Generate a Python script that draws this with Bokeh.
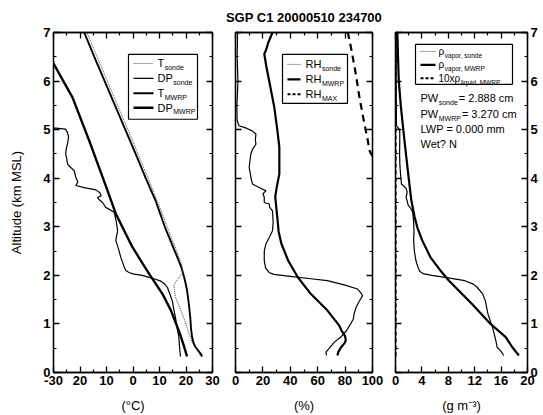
from bokeh.plotting import figure
from bokeh.layouts import row
from bokeh.models import FixedTicker, LinearAxis, Range1d
from bokeh.core.properties import value
from bokeh.embed import file_html
from bokeh.resources import INLINE

# ---------------- data ----------------
title_text = "SGP C1 20000510 234700"

# Panel 1: temperature / dew point (deg C) vs altitude (km MSL)
t_mwrp_alt = [0.33, 0.39, 0.45, 0.52, 0.6, 0.73, 0.9, 1.14, 1.4, 1.69, 1.9, 2.1, 2.2, 2.51, 3.0, 3.54, 4.0, 4.5, 5.0, 5.5, 6.0, 6.5, 7.0]
t_mwrp = [26.1, 25.5, 24.6, 23.6, 22.9, 22.3, 21.9, 21.6, 21.1, 20.4, 19.6, 18.6, 18.0, 15.7, 12.0, 8.5, 4.8, 1.0, -2.9, -6.8, -10.7, -14.6, -18.4]

t_sonde_alt = [0.33, 0.45, 0.6, 0.8, 0.93, 1.21, 1.55, 1.79, 1.9, 2.0, 2.06, 2.2, 2.5, 3.0, 3.5, 4.0, 4.5, 5.0, 6.0, 7.0]
t_sonde = [25.6, 24.3, 22.5, 21.1, 20.4, 18.6, 16.0, 15.4, 16.6, 18.0, 18.7, 18.5, 16.5, 12.9, 9.4, 5.7, 1.9, -1.9, -9.7, -17.4]

dp_mwrp_alt = [0.33, 0.55, 0.8, 1.28, 1.62, 2.03, 2.3, 2.58, 3.27, 3.88, 4.77, 5.66, 6.38, 7.0]
dp_mwrp = [20.4, 19.2, 17.7, 14.3, 11.1, 6.1, 3.0, -0.2, -6.5, -10.5, -16.5, -22.8, -30.2, -34.8]

dp_sonde_alt = [0.33, 0.5, 0.73, 0.93, 1.14, 1.3, 1.48, 1.6, 1.75, 1.82, 1.88, 1.92, 1.96, 2.0, 2.03, 2.06, 2.1, 2.2, 2.37, 2.55, 2.72, 2.92, 3.1, 3.3, 3.4, 3.5, 3.55, 3.6, 3.64, 3.7, 3.76, 3.8, 3.85, 3.92, 4.02, 4.16, 4.22, 4.29, 4.4, 4.5, 4.6, 4.71, 4.85, 4.95, 5.01, 5.03, 5.06, 7.0]
dp_sonde = [17.9, 17.6, 17.3, 16.6, 16.0, 15.4, 14.8, 14.0, 13.0, 12.0, 10.5, 8.5, 6.0, 3.5, 0.0, -1.5, -2.7, -3.5, -4.6, -5.5, -6.5, -5.8, -6.3, -7.1, -10.3, -11.5, -12.6, -13.4, -12.0, -12.5, -14.0, -18.0, -21.6, -20.8, -21.6, -22.2, -23.5, -24.7, -25.0, -25.4, -25.2, -24.7, -24.3, -24.8, -25.5, -29.0, -40.0, -48.0]

t_ticks = [-30, -20, -10, 0, 10, 20, 30]
t_tick_labels = ["-30", "20", "10", "0", "10", "20", "30"]
t_minor = [-25, -15, -5, 5, 15, 25]

# Panel 2: relative humidity (%)
rh_sonde_alt = [0.35, 0.42, 0.5, 0.62, 0.73, 0.86, 1.0, 1.1, 1.2, 1.34, 1.45, 1.58, 1.62, 1.72, 1.8, 1.89, 1.93, 1.98, 2.02, 2.06, 2.15, 2.3, 2.5, 2.65, 2.8, 2.92, 3.1, 3.33, 3.4, 3.47, 3.5, 3.61, 3.68, 3.74, 3.81, 3.88, 4.02, 4.1, 4.22, 4.35, 4.5, 4.6, 4.7, 4.8, 4.91, 4.97, 5.03, 5.08, 5.19, 5.5, 6.0, 6.5, 7.0]
rh_sonde = [66.5, 66.0, 68.5, 72.0, 76.8, 81.0, 84.0, 86.0, 86.5, 88.0, 90.0, 92.7, 92.0, 89.0, 80.0, 67.0, 55.0, 40.0, 28.0, 24.5, 22.0, 21.0, 21.0, 22.2, 25.0, 27.0, 27.5, 27.0, 25.0, 24.6, 21.0, 21.0, 20.0, 22.2, 17.3, 12.4, 11.2, 10.8, 10.0, 10.5, 11.2, 12.5, 14.9, 14.5, 14.9, 12.4, 8.0, 2.5, 1.2, 1.0, 1.8, 1.2, 1.5]

rh_mwrp_alt = [0.35, 0.42, 0.52, 0.6, 0.66, 0.75, 0.86, 0.97, 1.28, 1.62, 1.96, 2.3, 2.65, 2.9, 3.2, 3.61, 3.8, 4.09, 4.64, 5.0, 5.46, 6.0, 6.3, 6.56, 6.63, 6.8, 7.0]
rh_mwrp = [74.4, 75.0, 77.0, 79.5, 80.5, 80.0, 77.5, 75.6, 67.0, 54.9, 45.5, 38.5, 33.5, 31.5, 30.5, 29.0, 30.0, 32.0, 32.0, 30.5, 28.3, 24.6, 22.5, 21.0, 22.2, 24.0, 27.0]

rh_max_alt = [4.45, 4.57, 4.77, 5.12, 5.66, 6.2, 6.69, 7.0]
rh_max = [100.0, 97.8, 96.6, 94.1, 90.5, 87.5, 84.3, 82.0]

rh_ticks = [0, 20, 40, 60, 80, 100]
rh_tick_labels = ["0", "20", "40", "60", "80", "100"]
rh_minor = [10, 30, 50, 70, 90]

# Panel 3: vapor / liquid density (g m-3)
rho_sonde_alt = [0.35, 0.45, 0.52, 0.66, 0.93, 1.21, 1.48, 1.62, 1.75, 1.82, 1.89, 1.95, 2.0, 2.03, 2.08, 2.17, 2.3, 2.51, 2.72, 2.92, 3.1, 3.3, 3.38, 3.45, 3.52, 3.6, 3.66, 3.72, 3.78, 3.82, 3.88, 4.02, 4.16, 4.29, 4.5, 4.7, 4.9, 5.0, 5.03, 5.08, 5.5, 6.0, 6.5, 7.0]
rho_sonde = [16.4, 15.9, 15.4, 15.2, 14.7, 14.0, 13.6, 13.2, 12.4, 11.8, 10.5, 8.0, 5.5, 4.3, 3.7, 3.4, 3.1, 2.85, 2.75, 2.8, 2.75, 2.6, 2.3, 1.9, 1.8, 1.6, 1.7, 1.75, 1.65, 1.4, 0.9, 0.8, 0.72, 0.66, 0.62, 0.64, 0.65, 0.62, 0.45, 0.15, 0.12, 0.09, 0.1, 0.08]

rho_mwrp_alt = [0.35, 0.52, 0.73, 1.0, 1.41, 1.89, 2.1, 2.37, 2.72, 2.99, 3.2, 3.54, 4.0, 4.5, 5.0, 5.5, 6.0, 6.5, 7.0]
rho_mwrp = [18.7, 17.7, 16.7, 14.4, 11.6, 8.1, 6.8, 5.3, 4.05, 3.3, 2.9, 2.4, 2.0, 1.58, 1.18, 0.8, 0.5, 0.38, 0.28]

liq_alt = [0.33, 7.0]
liq_mwrp_x10 = [0.0, 0.0]

rho_ticks = [0, 4, 8, 12, 16, 20]
rho_tick_labels = ["0", "4", "8", "12", "16", "20"]
rho_minor = [2, 6, 10, 14, 18]

alt_ticks = [0, 1, 2, 3, 4, 5, 6, 7]
alt_tick_labels = ["0", "1", "2", "3", "4", "5", "6", "7"]
alt_minor = [0.5, 1.5, 2.5, 3.5, 4.5, 5.5, 6.5]

pw_sonde = "2.888"
pw_mwrp = "3.270"
lwp = "0.000"
wet_flag = "N"

# ---------------- styling helpers ----------------
FONT = "Liberation Sans"
H = 415
FRAME_H = 341
TOP = 31
BOTTOM = H - TOP - FRAME_H

WIDTHS = {"T": 611, "D": 722, "P": 667, "R": 722, "H": 722, "W": 944, "M": 833, "A": 667,
          "X": 667, "L": 556, "N": 722, "s": 500, "o": 556, "n": 556, "d": 556, "e": 556,
          "a": 556, "p": 556, "r": 333, "l": 222, "i": 222, "q": 556, "u": 556, "x": 500,
          ",": 278, " ": 278, "ρ": 578, "1": 556, "0": 556}


def tw(s, size):
    return sum(WIDTHS.get(c, 556) for c in s) * size / 1000.0


def make_axis(ticks, minor, labels=None, axis_label=None, standoff=3):
    ax = LinearAxis(ticker=FixedTicker(ticks=ticks, minor_ticks=minor))
    ax.major_tick_in = 6
    ax.major_tick_out = 0
    ax.minor_tick_in = 3
    ax.minor_tick_out = 0
    ax.axis_line_width = 1.3
    ax.axis_line_color = "black"
    ax.major_tick_line_width = 1.3
    ax.minor_tick_line_width = 1.2
    ax.major_tick_line_color = "black"
    ax.minor_tick_line_color = "black"
    if labels is None:
        ax.major_label_overrides = {t: "" for t in ticks}
        ax.major_label_text_font_size = "1px"
        ax.major_label_standoff = 0
    else:
        ax.major_label_overrides = {t: l for t, l in zip(ticks, labels)}
        ax.major_label_text_font = FONT
        ax.major_label_text_font_size = "13px"
        ax.major_label_text_font_style = "bold"
        ax.major_label_text_color = "black"
        ax.major_label_standoff = standoff
    if axis_label is not None:
        ax.axis_label = axis_label
        ax.axis_label_text_font = FONT
        ax.axis_label_text_font_size = "13px"
        ax.axis_label_text_font_style = "normal"
        ax.axis_label_text_color = "black"
        ax.axis_label_standoff = 10
    return ax


def make_fig(width, xr, left, right):
    p = figure(width=width, height=H, x_range=Range1d(*xr), y_range=Range1d(0, 7),
               x_axis_type=None, y_axis_type=None, output_backend="svg",
               toolbar_location=None, min_border_left=left, min_border_right=right,
               min_border_top=TOP, min_border_bottom=BOTTOM)
    p.outline_line_color = "black"
    p.outline_line_width = 1.3
    p.background_fill_color = "white"
    p.border_fill_color = "white"
    return p


def conv(xr, frame_w):
    def fx(px):
        return xr[0] + px / frame_w * (xr[1] - xr[0])

    def fy(py):
        return 7 - py / FRAME_H * 7
    return fx, fy


def sub_text(p, x, y, main, sub, rest="", size=10.5, ssize=7):
    p.text(x=[x], y=[y], text=[main], text_font=value(FONT), text_font_size=value(f"{size}px"),
           text_baseline="middle", text_align="left", text_color="black")
    if sub:
        p.text(x=[x], y=[y], text=[sub], text_font=value(FONT), text_font_size=value(f"{ssize}px"),
               text_baseline="middle", text_align="left", text_color="black",
               x_offset=tw(main, size) + 0.5, y_offset=4)
    if rest:
        p.text(x=[x], y=[y], text=[rest], text_font=value(FONT), text_font_size=value(f"{size}px"),
               text_baseline="middle", text_align="left", text_color="black",
               x_offset=tw(main, size) + tw(sub, ssize) + 1.5)


def legend_box(p, fx, fy, box, entries, sx, tx, size=10.5, ssize=7):
    l, t, r, b = box
    p.quad(left=[fx(l)], right=[fx(r)], top=[fy(t)], bottom=[fy(b)],
           fill_color="white", line_color="black", line_width=1.2)
    for py, style, main, sub in entries:
        p.segment(x0=[fx(sx[0])], x1=[fx(sx[1])], y0=[fy(py)], y1=[fy(py)], **style)
        sub_text(p, fx(tx), fy(py), main, sub, size=size, ssize=ssize)


# ---------------- panel 1 ----------------
P1_XR = (-30, 30)
p1 = make_fig(223, P1_XR, 53, 11)
fx1, fy1 = conv(P1_XR, 159)
p1.add_layout(make_axis(t_ticks, t_minor, t_tick_labels, "(°C)"), "below")
p1.add_layout(make_axis(t_ticks, t_minor), "above")
ya = make_axis(alt_ticks, alt_minor, alt_tick_labels, "Altitude (km MSL)")
ya.axis_label_standoff = 16
p1.add_layout(ya, "left")
p1.add_layout(make_axis(alt_ticks, alt_minor), "right")

st_t_sonde = dict(line_color="#444444", line_width=1.0, line_dash="1 1")
st_dp_sonde = dict(line_color="black", line_width=1.2)
st_t_mwrp = dict(line_color="black", line_width=1.9)
st_dp_mwrp = dict(line_color="black", line_width=2.4)

p1.line(dp_sonde, dp_sonde_alt, **st_dp_sonde)
p1.line(dp_mwrp, dp_mwrp_alt, **st_dp_mwrp)
p1.line(t_mwrp, t_mwrp_alt, **st_t_mwrp)
p1.line(t_sonde, t_sonde_alt, **st_t_sonde)

legend_box(p1, fx1, fy1, (75, 22, 144, 87),
           [(31, st_t_sonde, "T", "sonde"), (46, st_dp_sonde, "DP", "sonde"),
            (61, st_t_mwrp, "T", "MWRP"), (75.5, st_dp_mwrp, "DP", "MWRP")],
           (80, 100), 104, size=11)

# ---------------- panel 2 ----------------
P2_XR = (0, 100)
p2 = make_fig(160, P2_XR, 12, 11)
fx2, fy2 = conv(P2_XR, 137)
p2.add_layout(make_axis(rh_ticks, rh_minor, rh_tick_labels, "(%)"), "below")
p2.add_layout(make_axis(rh_ticks, rh_minor), "above")
p2.add_layout(make_axis(alt_ticks, alt_minor), "left")
p2.add_layout(make_axis(alt_ticks, alt_minor), "right")
p2.title.text = title_text
p2.title.align = "center"
p2.title.text_font = FONT
p2.title.text_font_size = "13px"
p2.title.text_font_style = "bold"
p2.title.text_color = "black"
p2.title.standoff = 15

st_rh_sonde = dict(line_color="black", line_width=1.2)
st_rh_mwrp = dict(line_color="black", line_width=2.2)
st_rh_max = dict(line_color="black", line_width=2.2, line_dash="7 5")

p2.line(rh_sonde, rh_sonde_alt, **st_rh_sonde)
p2.line(rh_mwrp, rh_mwrp_alt, **st_rh_mwrp)
p2.line(rh_max, rh_max_alt, **st_rh_max)

legend_box(p2, fx2, fy2, (47, 22, 112, 71),
           [(32, dict(line_color="#444444", line_width=1.0, line_dash="1 1"), "RH", "sonde"),
            (47, st_rh_mwrp, "RH", "MWRP"),
            (62, dict(line_color="black", line_width=2.0, line_dash="3 2"), "RH", "MAX")],
           (52, 65), 70, size=11)

# ---------------- panel 3 ----------------
P3_XR = (0, 20)
p3 = make_fig(160, P3_XR, 12, 16)
fx3, fy3 = conv(P3_XR, 132)
p3.add_layout(make_axis(rho_ticks, rho_minor, rho_tick_labels, "(g m⁻³)"), "below")
p3.add_layout(make_axis(rho_ticks, rho_minor), "above")
p3.add_layout(make_axis(alt_ticks, alt_minor), "left")
p3.add_layout(make_axis(alt_ticks, alt_minor, alt_tick_labels, standoff=3), "right")

st_rho_sonde = dict(line_color="black", line_width=1.2)
st_rho_mwrp = dict(line_color="black", line_width=2.2)
st_liq = dict(line_color="black", line_width=2.2, line_dash="4 3")

p3.line(rho_sonde, rho_sonde_alt, **st_rho_sonde)
p3.line(rho_mwrp, rho_mwrp_alt, **st_rho_mwrp)
p3.line(liq_mwrp_x10, liq_alt, **st_liq)

legend_box(p3, fx3, fy3, (20, 12, 117, 52),
           [(19, dict(line_color="#444444", line_width=1.0, line_dash="1 1"), "ρ", "vapor, sonde"),
            (32.5, st_rho_mwrp, "ρ", "vapor, MWRP"),
            (46, dict(line_color="black", line_width=2.0, line_dash="3 2"), "10xρ", "liquid, MWRP")],
           (25, 40), 43, size=10, ssize=6.5)

sub_text(p3, fx3(25), fy3(66), "PW", "sonde", f"= {pw_sonde} cm", size=11, ssize=7)
sub_text(p3, fx3(25), fy3(82), "PW", "MWRP", f"= {pw_mwrp} cm", size=11, ssize=7)
sub_text(p3, fx3(25), fy3(97), f"LWP = {lwp} mm", "", size=11)
sub_text(p3, fx3(25), fy3(112), f"Wet?  {wet_flag}", "", size=11)

layout = row(p1, p2, p3)
open("out.html", "w").write(file_html(layout, INLINE))
